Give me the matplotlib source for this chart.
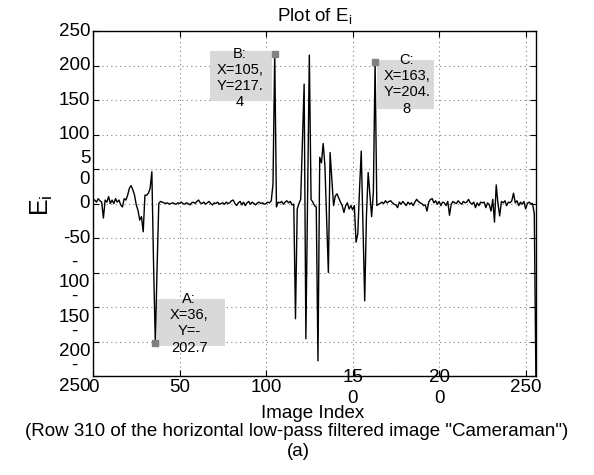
import matplotlib.pyplot as plt
from matplotlib import transforms
from matplotlib.patches import Rectangle

plt.rcParams["font.family"] = "Liberation Sans"
plt.rcParams["mathtext.fontset"] = "custom"
plt.rcParams["mathtext.rm"] = "Liberation Sans"
plt.rcParams["mathtext.it"] = "Liberation Sans:italic"

# E_i for image index 1..256
e_values = [
    5, 2, 7, 4, 2, -21, 5, 2, 10, 0,
    5, 0, 7, 2, 5, -2, -5, 7, 5, 12,
    22, 26, 20, 12, -2, -10, -24, -19, -41, 12,
    12, 15, 22, 46, -90, -202.7, -95, 0, 3, 2,
    1, 0, 1, -1, 0, 1, 0, -1, 1, 0,
    2, 0, -1, 1, 0, -2, 1, 2, 0, 3,
    5, 1, 0, 2, -1, 1, 3, 0, -2, 1,
    0, 2, -1, 0, 1, -1, 2, 0, 1, 4,
    5, 0, -3, 1, 3, -2, 2, -3, 1, 3,
    -1, 2, 0, -2, 1, 2, 0, 1, -1, 0,
    2, 1, 4, 28, 217.4, -5, 2, 1, 3, -1,
    2, 4, 1, 3, -2, -1, -167, -8, 0, 6,
    90, 173, -196, 10, 215, 6, 2, -3, -5, -228,
    67, 59, 87, 55, -22, -100, 74, 35, -3, 11,
    14, 8, 2, -3, -13, -3, 1, -8, -3, -9,
    -3, -56, -44, 20, 76, -30, -141, -18, 45, 13,
    -19, 16, 204.8, -3, -1, 0, 2, 0, 4, 1,
    3, 4, 1, -1, -2, -6, 2, -1, 3, 0,
    -3, 2, -1, 1, -3, 2, 6, 3, 1, 0,
    -3, -2, -11, 2, 6, 7, 1, 4, -1, 3,
    -3, 2, 1, -3, 3, -17, -1, 3, 1, 0,
    4, 1, -1, 3, 1, 2, 6, 1, -1, 2,
    -6, 1, -3, 2, 1, 2, -6, 1, -2, -11,
    6, -27, 27, 0, -18, 3, 1, 4, -3, 2,
    1, 4, 15, 1, 4, -3, 2, -1, 3, -8,
    0, 2, 0, 0, -15, -270,
]
image_index = list(range(1, len(e_values) + 1))

x_ticks = [0, 50, 100, 150, 200, 250]
x_tick_labels = ["0", "50", "100", "15\n0", "20\n0", "250"]
y_ticks = [-250, -200, -150, -100, -50, 0, 50, 100, 150, 200, 250]
y_tick_labels = ["-\n250", "-\n200", "-\n150", "-\n100", "-50", "0", "5\n0", "100", "150", "200", "250"]

tip_index = [36, 105, 163]
tip_labels = ["A:\nX=36,\nY=-\n202.7", "B:\nX=105,\nY=217.\n4", "C:\nX=163,\nY=204.\n8"]
# box (x0, y0, w, h) and text centre, in inches relative to the tip point
tip_boxes = [(0.02, -0.03, 0.68, 0.47), (-0.646, -0.47, 0.62, 0.50), (0.02, -0.464, 0.57, 0.49)]
tip_text_pos = [(0.34, 0.20), (-0.346, -0.245), (0.317, -0.22)]

fig = plt.figure(figsize=(5.94, 4.75), dpi=100)
ax = fig.add_axes([0.1566, 0.2084, 0.7458, 0.7263])
ax.plot(image_index, e_values, color="black", linewidth=1.0, zorder=3)
ax.set_xlim(0, 256)
ax.set_ylim(-250, 250)

ax.set_xticks(x_ticks, x_tick_labels)
ax.set_yticks(y_ticks, y_tick_labels)
ax.tick_params(direction="in", length=4, width=0.8, top=True, right=True, labelsize=13.5)
ax.tick_params(axis="x", pad=8.5)
ax.tick_params(axis="y", pad=2)
for lbl in ax.get_xticklabels():
    lbl.set_verticalalignment("center")
    lbl.set_multialignment("center")
    lbl.set_linespacing(1.3)
for lbl in ax.get_yticklabels():
    lbl.set_verticalalignment("center")
    lbl.set_multialignment("center")
    lbl.set_linespacing(1.3)
for sp in ax.spines.values():
    sp.set_linewidth(1.0)
ax.grid(True, color="#808080", linestyle=(0, (1, 3)), linewidth=0.8)

ax.set_title(r"Plot of E$_\mathrm{i}$", fontsize=13.5, pad=7.5)
fig.text(0.0707, 0.568, r"E$_\mathrm{i}$", rotation=90, fontsize=18, ha="center", va="center")
fig.text(0.527, 1 - 413 / 475, "Image Index", fontsize=13.5, ha="center", va="center")
fig.text(0.5, 1 - 432 / 475, '(Row 310 of the horizontal low-pass filtered image "Cameraman")',
         fontsize=13.5, ha="center", va="center")
fig.text(0.502, 1 - 452 / 475, "(a)", fontsize=13.5, ha="center", va="center")

for idx, label, box, tpos in zip(tip_index, tip_labels, tip_boxes, tip_text_pos):
    val = e_values[idx - 1]
    trans = fig.dpi_scale_trans + transforms.ScaledTranslation(idx, val, ax.transData)
    ax.add_patch(Rectangle(box[:2], box[2], box[3], transform=trans, facecolor="#d9d9d9",
                           edgecolor="none", clip_on=False, zorder=5))
    ax.text(tpos[0], tpos[1], label, transform=trans, fontsize=10.5, ha="center", va="center",
            multialignment="center", linespacing=1.2, zorder=6, clip_on=False)
    ax.plot([idx], [val], marker="s", markersize=4, color="#808080", zorder=7, clip_on=False)

fig.savefig("out.png", dpi=100)
